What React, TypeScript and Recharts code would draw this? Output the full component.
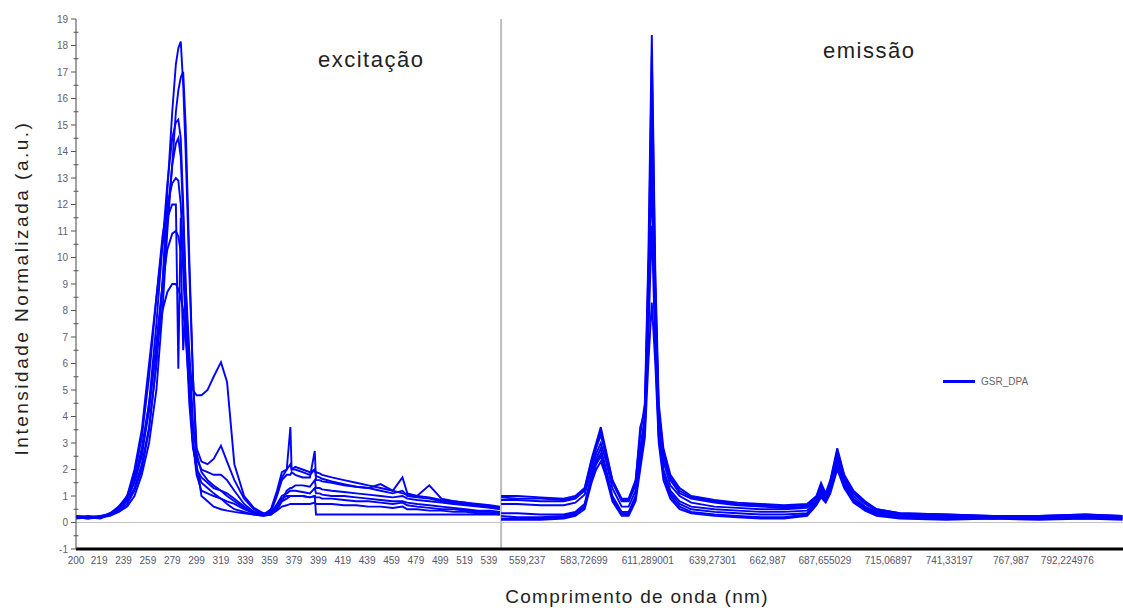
import { Legend, Line, LineChart, ReferenceLine, XAxis, YAxis } from 'recharts'

// excitation scan (nm)
const exWl = [
  200, 210, 220, 228, 235, 242, 248, 254, 260, 266, 271, 275, 279, 282, 284, 286, 288, 290, 293, 296,
  299, 303, 308, 313, 319, 324, 330, 338, 346, 354, 360, 365, 369, 373, 376, 377, 380, 386, 392, 396,
  397, 400, 402, 410, 420, 430, 440, 450, 460, 468, 472, 480, 490, 500, 510, 520, 530, 540, 548,
]

const exA = [
  0.2, 0.15, 0.25, 0.3, 0.45, 0.8, 1.3, 2.2, 3.6, 6.0, 9.0, 12.5, 15.5, 17.3, 17.9, 18.15, 16.5, 14.0, 9.5, 5.5,
  2.6, 1.9, 1.6, 1.4, 1.2, 1.0, 0.8, 0.55, 0.4, 0.3, 0.5, 1.2, 1.9, 2.0, 3.6, 2.0, 2.1, 2.0, 1.9, 2.0,
  1.9, 1.85, 1.8, 1.7, 1.6, 1.5, 1.4, 1.3, 1.2, 1.1, 1.05, 1.0, 0.95, 0.85, 0.8, 0.75, 0.7, 0.65, 0.6,
]
const exB = [
  0.25, 0.2, 0.2, 0.25, 0.4, 0.6, 1.0, 1.8, 3.0, 5.0, 8.0, 11.0, 13.5, 15.5, 16.3, 16.8, 17.0, 15.0, 10.0, 5.5,
  2.8, 2.3, 2.2, 2.4, 2.9, 2.3, 1.6, 0.9, 0.5, 0.3, 0.4, 1.0, 1.6, 1.8, 1.8, 1.9, 1.8, 1.7, 1.7, 2.7,
  1.6, 1.6, 1.55, 1.5, 1.4, 1.35, 1.3, 1.45, 1.2, 1.7, 1.1, 1.0, 1.4, 0.9, 0.8, 0.75, 0.65, 0.6, 0.55,
]
const exC = [
  0.15, 0.2, 0.2, 0.3, 0.5, 0.9, 1.6, 2.8, 4.5, 7.5, 10.5, 12.8, 14.5, 15.1, 15.2, 14.5, 12.0, 9.0, 5.5, 3.0,
  2.0, 1.5, 1.3, 1.1, 0.9, 0.7, 0.5, 0.4, 0.3, 0.25, 0.35, 0.7, 1.0, 1.1, 1.2, 1.2, 1.2, 1.15, 1.1, 1.3,
  1.1, 1.1, 1.05, 1.0, 1.0, 0.95, 0.9, 0.85, 0.8, 0.8, 0.75, 0.7, 0.65, 0.6, 0.55, 0.5, 0.45, 0.45, 0.4,
]
const exD = [
  0.2, 0.2, 0.15, 0.3, 0.4, 0.7, 1.2, 2.0, 3.5, 6.0, 9.0, 11.5, 13.5, 14.3, 14.5, 13.8, 11.5, 9.0, 6.5, 3.8,
  2.4, 2.0, 1.9, 1.8, 1.8, 1.6, 1.2, 0.7, 0.4, 0.3, 0.3, 0.6, 0.9, 1.0, 1.0, 1.0, 1.0, 1.0, 0.95, 1.0,
  0.95, 0.95, 0.9, 0.9, 0.85, 0.8, 0.8, 0.75, 0.7, 0.75, 0.65, 0.6, 0.55, 0.5, 0.5, 0.45, 0.4, 0.4, 0.35,
]
const exE = [
  0.2, 0.25, 0.2, 0.35, 0.6, 1.0, 1.8, 3.2, 5.5, 8.5, 10.8, 12.0, 12.8, 13.0, 12.9, 12.0, 10.0, 8.0, 6.0, 5.0,
  4.8, 4.8, 5.0, 5.5, 6.05, 5.3, 2.2, 1.0, 0.55, 0.35, 0.35, 0.5, 0.8, 1.2, 1.3, 1.3, 1.4, 1.4, 1.35, 1.6,
  1.3, 1.3, 1.25, 1.2, 1.15, 1.1, 1.05, 1.0, 0.95, 1.0, 0.9, 0.85, 0.8, 0.75, 0.7, 0.65, 0.6, 0.55, 0.5,
]
const exF = [
  0.2, 0.15, 0.2, 0.3, 0.5, 1.0, 2.0, 3.5, 6.0, 8.5, 10.5, 11.5, 12.0, 12.0, 5.8, 11.5, 9.5, 7.5, 4.5, 2.8,
  2.2, 1.0, 0.8, 0.6, 0.5, 0.45, 0.4, 0.35, 0.3, 0.25, 0.3, 0.5, 0.8, 0.9, 1.0, 1.0, 1.0, 1.0, 0.95, 1.0,
  0.3, 0.3, 0.3, 0.3, 0.3, 0.3, 0.3, 0.3, 0.3, 0.3, 0.3, 0.3, 0.3, 0.3, 0.3, 0.3, 0.3, 0.3, 0.3,
]
const exG = [
  0.25, 0.2, 0.25, 0.3, 0.55, 1.0, 1.6, 2.6, 4.2, 6.8, 9.0, 10.3, 10.9, 11.0, 10.8, 10.2, 6.5, 8.0, 5.0, 3.0,
  1.8, 1.2, 1.1, 1.0, 0.9, 0.8, 0.7, 0.5, 0.35, 0.3, 0.3, 0.45, 0.6, 0.65, 0.7, 0.7, 0.7, 0.7, 0.7, 0.75,
  0.7, 0.7, 0.7, 0.7, 0.65, 0.65, 0.6, 0.6, 0.55, 0.6, 0.5, 0.5, 0.45, 0.45, 0.4, 0.4, 0.35, 0.35, 0.3,
]
const exH = [
  0.2, 0.2, 0.2, 0.35, 0.5, 0.9, 1.5, 2.5, 4.5, 6.5, 8.0, 8.7, 9.0, 9.0, 8.8, 8.5, 8.0, 7.0, 5.0, 3.0,
  2.0, 1.7, 1.5, 1.3, 1.2, 1.1, 0.9, 0.6, 0.4, 0.3, 0.45, 1.1, 1.7, 2.0, 2.2, 2.0, 2.0, 1.9, 1.8, 2.0,
  1.75, 1.7, 1.65, 1.55, 1.45, 1.35, 1.3, 1.2, 1.1, 1.2, 1.0, 0.95, 0.9, 0.8, 0.75, 0.7, 0.65, 0.6, 0.55,
]

// emission scan (nm)
const emWl = [
  548, 555, 565, 575, 580, 584, 587, 589, 591, 593, 596, 600, 603, 606, 608, 610, 611.5, 613, 614.5, 616,
  618, 621, 625, 630, 640, 650, 660, 670, 680, 684, 686, 688, 690, 693, 696, 700, 705, 710, 720, 740,
  760, 780, 800, 816,
]

const emA = [
  1.0, 1.0, 0.95, 0.9, 1.0, 1.3, 2.4, 3.0, 3.6, 2.8, 1.6, 0.9, 0.9, 1.6, 3.3, 4.5, 10.0, 18.4, 9.5, 4.5,
  2.8, 1.8, 1.3, 1.0, 0.85, 0.75, 0.7, 0.65, 0.7, 1.0, 1.5, 1.1, 1.6, 2.8, 1.8, 1.2, 0.8, 0.5, 0.35, 0.3,
  0.25, 0.25, 0.3, 0.25,
]
const emB = [
  0.85, 0.85, 0.8, 0.8, 0.9, 1.2, 2.2, 2.8, 3.3, 2.6, 1.5, 0.8, 0.8, 1.4, 2.8, 4.0, 9.0, 17.6, 9.0, 4.0,
  2.5, 1.6, 1.1, 0.9, 0.75, 0.65, 0.6, 0.55, 0.6, 0.9, 1.3, 1.0, 1.5, 2.6, 1.7, 1.1, 0.7, 0.45, 0.3, 0.25,
  0.25, 0.2, 0.25, 0.2,
]
const emC = [
  0.35, 0.35, 0.3, 0.3, 0.4, 0.7, 1.8, 2.4, 2.8, 2.1, 1.0, 0.4, 0.4, 1.0, 2.5, 3.8, 8.0, 16.1, 8.0, 3.5,
  2.0, 1.2, 0.8, 0.6, 0.5, 0.45, 0.4, 0.4, 0.45, 0.8, 1.2, 0.9, 1.3, 2.4, 1.5, 0.9, 0.55, 0.35, 0.25, 0.2,
  0.2, 0.2, 0.2, 0.15,
]
const emD = [
  0.15, 0.15, 0.15, 0.2, 0.3, 0.6, 1.6, 2.2, 2.5, 1.9, 0.9, 0.3, 0.3, 0.9, 2.3, 3.5, 7.5, 14.2, 7.0, 3.2,
  1.8, 1.0, 0.6, 0.4, 0.3, 0.25, 0.2, 0.2, 0.3, 0.7, 1.0, 0.8, 1.2, 2.2, 1.4, 0.8, 0.5, 0.3, 0.2, 0.15,
  0.15, 0.15, 0.15, 0.15,
]
const emE = [
  0.95, 0.9, 0.9, 0.85, 0.95, 1.25, 2.3, 2.9, 3.4, 2.7, 1.6, 0.85, 0.85, 1.5, 3.6, 4.2, 9.5, 12.5, 8.5, 4.2,
  2.6, 1.7, 1.2, 0.95, 0.8, 0.7, 0.65, 0.6, 0.65, 0.95, 1.4, 1.05, 1.5, 2.7, 1.75, 1.15, 0.75, 0.5, 0.35, 0.3,
  0.25, 0.25, 0.3, 0.25,
]
const emF = [
  0.25, 0.2, 0.2, 0.25, 0.35, 0.6, 1.7, 2.3, 2.6, 2.0, 0.9, 0.35, 0.35, 0.9, 2.4, 3.6, 7.0, 11.2, 6.5, 3.3,
  1.9, 1.1, 0.7, 0.5, 0.4, 0.35, 0.3, 0.3, 0.35, 0.75, 1.1, 0.85, 1.25, 2.3, 1.45, 0.85, 0.5, 0.3, 0.2, 0.2,
  0.15, 0.2, 0.2, 0.15,
]
const emG = [
  0.1, 0.1, 0.1, 0.15, 0.25, 0.5, 1.5, 2.0, 2.3, 1.8, 0.8, 0.25, 0.25, 0.8, 2.0, 3.2, 6.0, 8.3, 6.0, 3.0,
  1.6, 0.9, 0.5, 0.35, 0.25, 0.2, 0.15, 0.15, 0.25, 0.65, 0.95, 0.75, 1.1, 2.0, 1.3, 0.75, 0.45, 0.25, 0.15, 0.1,
  0.15, 0.1, 0.15, 0.1,
]
const emH = [
  0.7, 0.7, 0.65, 0.65, 0.75, 1.05, 2.0, 2.6, 3.0, 2.4, 1.3, 0.6, 0.6, 1.2, 2.6, 3.9, 8.5, 15.0, 8.5, 3.8,
  2.3, 1.4, 1.0, 0.75, 0.6, 0.55, 0.5, 0.5, 0.55, 0.85, 1.25, 0.95, 1.4, 2.5, 1.6, 1.0, 0.6, 0.4, 0.3, 0.25,
  0.2, 0.25, 0.2, 0.2,
]

const exTickLabels = [200, 219, 239, 259, 279, 299, 319, 339, 359, 379, 399, 419, 439, 459, 479, 499, 519, 539]
const emTickLabels = [
  '559,237', '583,72699', '611,289001', '639,27301', '662,987',
  '687,655029', '715,06897', '741,33197', '767,987', '792,224976',
]
const yTicks = [-1, 0, 1, 2, 3, 4, 5, 6, 7, 8, 9, 10, 11, 12, 13, 14, 15, 16, 17, 18, 19]

// the two scans share one axis; emission is drawn stretched
const EX_START = 200
const EM_START = 548
const EM_OFFSET = 349
const EM_STRETCH = 1.903
const X_MAX = 859.5

const exPos = (wl: number) => wl - EX_START
const emPos = (wl: number) => EM_OFFSET + (wl - EM_START) * EM_STRETCH

const exSeries = [exA, exB, exC, exD, exE, exF, exG, exH]
const emSeries = [emA, emB, emC, emD, emE, emF, emG, emH]

const data = [
  ...exWl.map((wl, i) => {
    const row: Record<string, number> = { pos: exPos(wl) }
    exSeries.forEach((s, k) => (row[`ex${k}`] = s[i]))
    return row
  }),
  ...emWl.map((wl, i) => {
    const row: Record<string, number> = { pos: emPos(wl) }
    emSeries.forEach((s, k) => (row[`em${k}`] = s[i]))
    return row
  }),
]

const tickLabelByPos = new Map<number, string>()
exTickLabels.forEach((v) => tickLabelByPos.set(exPos(v), String(v)))
emTickLabels.forEach((v) => tickLabelByPos.set(emPos(Number(v.replace(',', '.'))), v))
const xTicks = Array.from(tickLabelByPos.keys())

const yAllTicks = [...yTicks, ...yTicks.slice(0, -1).map((v) => v + 0.5)].sort((a, b) => a - b)

const BLUE = '#0000ff'
const FONT = '"Liberation Sans", Arial, sans-serif'

function YTick({ x, y, payload }: any) {
  const v = payload.value as number
  const major = Number.isInteger(v)
  return (
    <g>
      <line x1={major ? x - 5 : x - 2.5} x2={major ? x : x + 2.5} y1={y} y2={y} stroke="#555" />
      {major && (
        <text x={x - 8} y={y} dy={3.5} textAnchor="end" fontSize={10} fill="#5f5f6f" fontFamily={FONT}>
          {v}
        </text>
      )}
    </g>
  )
}

function LegendBox() {
  return (
    <div style={{ display: 'flex', alignItems: 'center', fontFamily: FONT, fontSize: 10, color: '#666' }}>
      <span style={{ display: 'inline-block', width: 32, height: 3, background: BLUE, marginRight: 6 }} />
      GSR_DPA
    </div>
  )
}

export default function App() {
  return (
    <div style={{ position: 'absolute', left: 0, top: 0, width: 1123, height: 608, background: '#fff', fontFamily: FONT }}>
      <LineChart width={1123} height={608} data={data} margin={{ top: 19, right: 0, left: 36, bottom: 29 }}>
        <XAxis
          type="number"
          dataKey="pos"
          domain={[0, X_MAX]}
          ticks={xTicks}
          interval={0}
          tickFormatter={(v: number) => tickLabelByPos.get(v) ?? ''}
          tick={{ fontSize: 10, fill: '#55556a', fontFamily: FONT }}
          tickLine={false}
          axisLine={{ stroke: '#000', strokeWidth: 3 }}
          height={30}
        />
        <YAxis
          type="number"
          domain={[-1, 19]}
          ticks={yAllTicks}
          interval={0}
          tick={YTick}
          tickLine={false}
          tickSize={0}
          tickMargin={0}
          width={40}
          axisLine={{ stroke: '#444' }}
        />
        <ReferenceLine y={0} stroke="#c4c4c4" strokeWidth={1} />
        <ReferenceLine x={EM_OFFSET} stroke="#bdbdbd" strokeWidth={2} />
        <Legend
          layout="horizontal"
          verticalAlign="middle"
          align="center"
          content={() => <LegendBox />}
          wrapperStyle={{ left: 943, top: 376, width: 'auto', height: 'auto' }}
        />
        {exSeries.map((_, k) => (
          <Line
            key={`ex${k}`}
            dataKey={`ex${k}`}
            stroke={BLUE}
            strokeWidth={1.9}
            dot={false}
            isAnimationActive={false}
            legendType="none"
          />
        ))}
        {emSeries.map((_, k) => (
          <Line
            key={`em${k}`}
            dataKey={`em${k}`}
            stroke={BLUE}
            strokeWidth={1.9}
            dot={false}
            isAnimationActive={false}
            legendType="none"
          />
        ))}
      </LineChart>
      <div style={{ position: 'absolute', left: 318, top: 47, fontSize: 22, letterSpacing: 1.5, color: '#222' }}>excitação</div>
      <div style={{ position: 'absolute', left: 823, top: 38, fontSize: 22, letterSpacing: 1.5, color: '#222' }}>emissão</div>
      <div
        style={{
          position: 'absolute',
          left: 22,
          top: 288,
          transform: 'translate(-50%, -50%) rotate(-90deg)',
          whiteSpace: 'nowrap',
          fontSize: 19,
          letterSpacing: 2.5,
          color: '#222',
        }}
      >
        Intensidade Normalizada (a.u.)
      </div>
      <div
        style={{
          position: 'absolute',
          left: 637,
          top: 597,
          transform: 'translate(-50%, -50%)',
          whiteSpace: 'nowrap',
          fontSize: 19,
          letterSpacing: 1.3,
          color: '#222',
        }}
      >
        Comprimento de onda (nm)
      </div>
    </div>
  )
}
